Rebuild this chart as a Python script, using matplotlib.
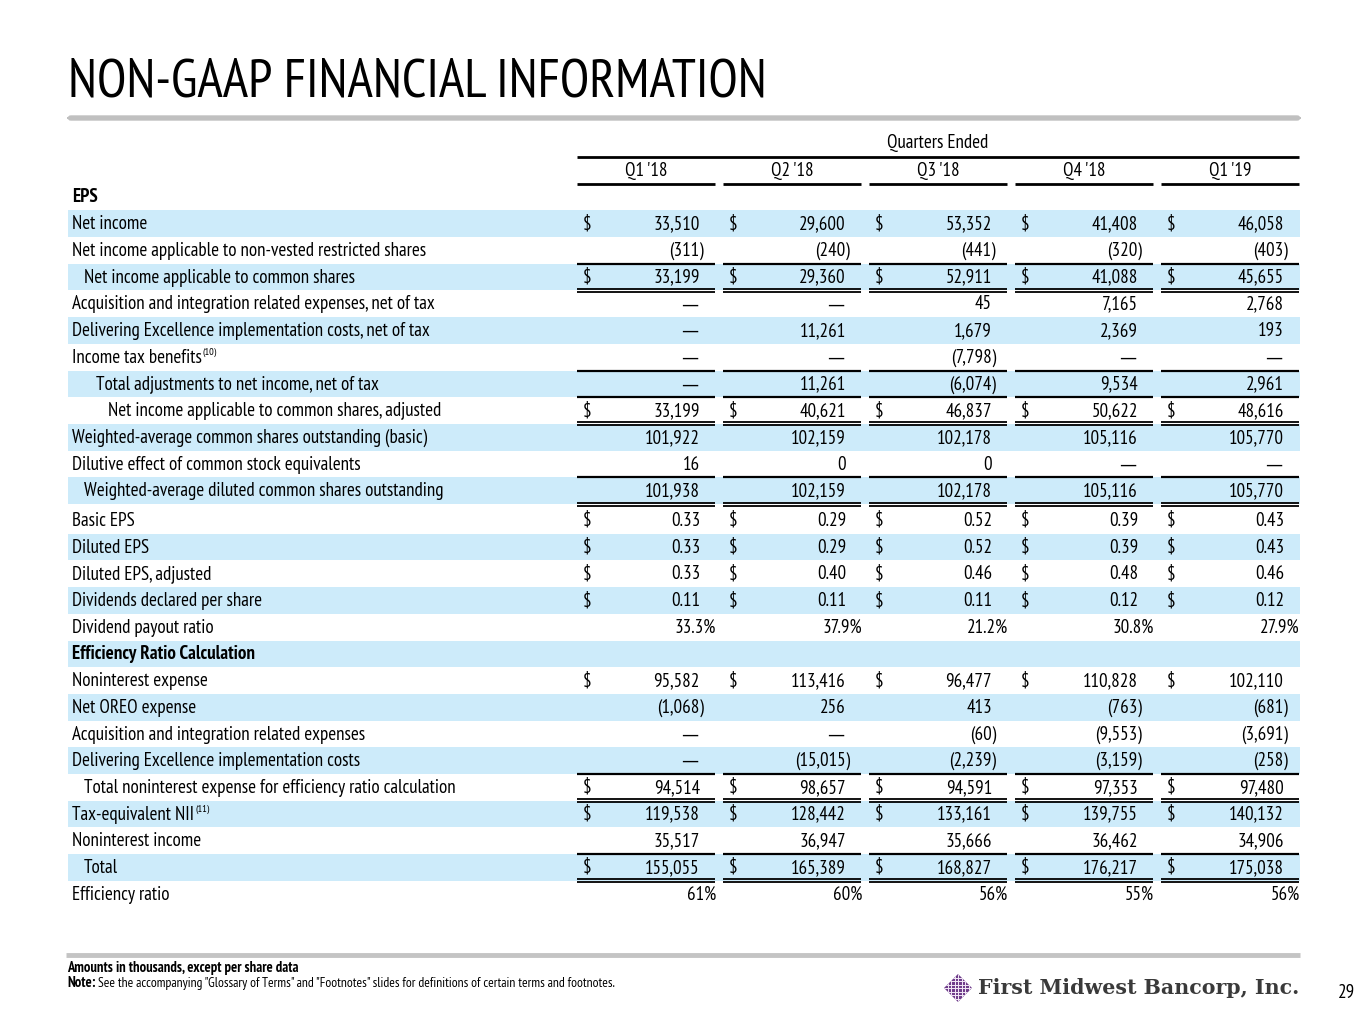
import matplotlib
matplotlib.use("Agg")
import matplotlib.pyplot as plt
from matplotlib.patches import Rectangle, FancyBboxPatch, Polygon

FONT = ['PT Sans Narrow', 'Fira Sans Condensed', 'Asap Condensed', 'DejaVu Sans']
plt.rcParams['font.family'] = FONT

quarters = ["Q1 '18", "Q2 '18", "Q3 '18", "Q4 '18", "Q1 '19"]

# EPS section
net_income = [33510, 29600, 53352, 41408, 46058]
nonvested = [-311, -240, -441, -320, -403]
ni_common = [33199, 29360, 52911, 41088, 45655]
acq_net = [None, None, 45, 7165, 2768]
de_net = [None, 11261, 1679, 2369, 193]
tax_benefit = [None, None, -7798, None, None]
total_adj = [None, 11261, -6074, 9534, 2961]
ni_common_adj = [33199, 40621, 46837, 50622, 48616]
shares_basic = [101922, 102159, 102178, 105116, 105770]
dilutive = [16, 0, 0, None, None]
shares_diluted = [101938, 102159, 102178, 105116, 105770]
basic_eps = [0.33, 0.29, 0.52, 0.39, 0.43]
diluted_eps = [0.33, 0.29, 0.52, 0.39, 0.43]
diluted_eps_adj = [0.33, 0.40, 0.46, 0.48, 0.46]
dividends = [0.11, 0.11, 0.11, 0.12, 0.12]
payout = [33.3, 37.9, 21.2, 30.8, 27.9]

# efficiency ratio section
nonint_exp = [95582, 113416, 96477, 110828, 102110]
oreo = [-1068, 256, 413, -763, -681]
acq_exp = [None, None, -60, -9553, -3691]
de_cost = [None, -15015, -2239, -3159, -258]
total_nonint = [94514, 98657, 94591, 97353, 97480]
te_nii = [119538, 128442, 133161, 139755, 140132]
nonint_inc = [35517, 36947, 35666, 36462, 34906]
total_rev = [155055, 165389, 168827, 176217, 175038]
eff_ratio = [61, 60, 56, 55, 56]

# label, values, kind, indent level, dollar sign, bold, superscript, rule below
rows = [
    ("EPS", None, "", 0, False, True, "", ""),
    ("Net income", net_income, "int", 0, True, False, "", ""),
    ("Net income applicable to non-vested restricted shares", nonvested, "int", 0, False, False, "", "single"),
    ("Net income applicable to common shares", ni_common, "int", 1, True, False, "", "double"),
    ("Acquisition and integration related expenses, net of tax", acq_net, "int", 0, False, False, "", ""),
    ("Delivering Excellence implementation costs, net of tax", de_net, "int", 0, False, False, "", ""),
    ("Income tax benefits", tax_benefit, "int", 0, False, False, "(10)", "single"),
    ("Total adjustments to net income, net of tax", total_adj, "int", 2, False, False, "", "single"),
    ("Net income applicable to common shares, adjusted", ni_common_adj, "int", 3, True, False, "", "double"),
    ("Weighted-average common shares outstanding (basic)", shares_basic, "int", 0, False, False, "", ""),
    ("Dilutive effect of common stock equivalents", dilutive, "int", 0, False, False, "", "single"),
    ("Weighted-average diluted common shares outstanding", shares_diluted, "int", 1, False, False, "", "double"),
    ("Basic EPS", basic_eps, "eps", 0, True, False, "", ""),
    ("Diluted EPS", diluted_eps, "eps", 0, True, False, "", ""),
    ("Diluted EPS, adjusted", diluted_eps_adj, "eps", 0, True, False, "", ""),
    ("Dividends declared per share", dividends, "eps", 0, True, False, "", ""),
    ("Dividend payout ratio", payout, "pct1", 0, False, False, "", ""),
    ("Efficiency Ratio Calculation", None, "", 0, False, True, "", ""),
    ("Noninterest expense", nonint_exp, "int", 0, True, False, "", ""),
    ("Net OREO expense", oreo, "int", 0, False, False, "", ""),
    ("Acquisition and integration related expenses", acq_exp, "int", 0, False, False, "", ""),
    ("Delivering Excellence implementation costs", de_cost, "int", 0, False, False, "", "single"),
    ("Total noninterest expense for efficiency ratio calculation", total_nonint, "int", 1, True, False, "", "double"),
    ("Tax-equivalent NII", te_nii, "int", 0, True, False, "(11)", ""),
    ("Noninterest income", nonint_inc, "int", 0, False, False, "", "single"),
    ("Total", total_rev, "int", 1, True, False, "", "double"),
    ("Efficiency ratio", eff_ratio, "pct0", 0, False, False, "", ""),
]


def fmt(v, kind):
    if v is None:
        return "\u2014"
    if kind == "eps":
        return f"{v:.2f}"
    if kind == "pct1":
        return f"{v:.1f}%"
    if kind == "pct0":
        return f"{v:.0f}%"
    if v < 0:
        return f"({-v:,})"
    return f"{v:,}"


fig = plt.figure(figsize=(13.65, 10.24), dpi=100)
ax = fig.add_axes([0, 0, 1, 1])
ax.set_xlim(0, 1365)
ax.set_ylim(1024, 0)
ax.axis("off")
renderer = fig.canvas.get_renderer()
inv = ax.transData.inverted()


def width_of(t):
    bb = t.get_window_extent(renderer)
    return bb.x1 - bb.x0


def fit_size(s, target, **kw):
    t = ax.text(0, 0, s, fontsize=20, **kw)
    w = width_of(t)
    t.remove()
    return 20 * target / w


def right_x(t):
    bb = t.get_window_extent(renderer)
    return inv.transform((bb.x1, bb.y1))[0]


FS = fit_size("Net income applicable to non-vested restricted shares", 352)
DY = 0.5  # nudge so the cap height sits centred in the band
band_color = "#cdebfa"
col_left = [577 + 146 * i for i in range(5)]
col_w = 138

# title + grey bar
title_fs = fit_size("NON-GAAP FINANCIAL INFORMATION", 698)
ax.text(68, 83, "NON-GAAP FINANCIAL INFORMATION", fontsize=title_fs, va="center", ha="left", color="black")
ax.add_patch(FancyBboxPatch((68, 116), 1232, 4, boxstyle="round,pad=0,rounding_size=3",
                            fc="#c0c0c0", ec="#c0c0c0", lw=1))

# column header
ax.text((col_left[0] + col_left[-1] + col_w) / 2, 143 + DY, "Quarters Ended", fontsize=FS, ha="center", va="center")
ax.hlines(157, col_left[0], col_left[-1] + col_w, color="black", lw=2)
for q, x0 in zip(quarters, col_left):
    ax.text(x0 + col_w / 2, 170 + DY, q, fontsize=FS, ha="center", va="center")
    ax.hlines(184, x0, x0 + col_w, color="black", lw=2)


def row_y(i):
    return 197 + i * 26.7 + (3 if i >= 12 else 0)


for i, (label, vals, kind, indent, dollar, bold, sup, rule) in enumerate(rows):
    y = row_y(i)
    if i % 2 == 1:
        ax.add_patch(Rectangle((68, y - 13.3), 1232, 26.6, fc=band_color, ec="none", zorder=0))
    t = ax.text(72 + 12 * indent, y + DY, label, fontsize=FS, ha="left", va="center",
                fontweight="bold" if bold else "normal")
    if sup:
        ax.text(right_x(t) + 1, y - 5, sup, fontsize=FS * 0.55, ha="left", va="center")
    if vals is None:
        continue
    for v, x0 in zip(vals, col_left):
        xr = x0 + col_w
        s = fmt(v, kind)
        if dollar:
            ax.text(x0 + 6, y + DY, "$", fontsize=FS, ha="left", va="center")
        if v is None:
            ax.text(xr - 17, y + DY, s, fontsize=FS * 0.9, ha="right", va="center",
                    family=["DejaVu Sans"])
        else:
            if s.endswith("%"):
                xt = xr + 1
            elif s.endswith(")"):
                xt = xr - 11
            else:
                xt = xr - 15
            ax.text(xt, y + DY, s, fontsize=FS, ha="right", va="center")
        yb = y + 13.3
        if rule == "single":
            ax.hlines(yb, x0, xr, color="black", lw=1.6, zorder=3)
        elif rule == "double":
            ax.hlines(yb - 1.5, x0, xr, color="black", lw=1.3, zorder=3)
            ax.hlines(yb + 1.5, x0, xr, color="black", lw=1.3, zorder=3)

# footer
ax.hlines(955, 66, 1300, color="#c4c4c4", lw=3.5)
amounts = "Amounts in thousands, except per share data"
note = "See the accompanying \"Glossary of Terms\" and \"Footnotes\" slides for definitions of certain terms and footnotes."
small_fs = fit_size(amounts, 231, fontweight="bold")
ax.text(67, 968, amounts, fontsize=small_fs, fontweight="bold", ha="left", va="center")
t = ax.text(67, 983, "Note:", fontsize=small_fs, fontweight="bold", ha="left", va="center")
x_note = right_x(t) + 3
ax.text(x_note, 983, note, fontsize=fit_size(note, 612 - x_note), ha="left", va="center")

# logo
cx, cy, r = 958, 988, 14
diamond = Polygon([(cx, cy - r), (cx + r, cy), (cx, cy + r), (cx - r, cy)], closed=True,
                  fc="#6f3d8a", ec="none")
ax.add_patch(diamond)
for k in range(-3, 4):
    ln = ax.plot([cx + k * 3.5, cx + k * 3.5], [cy - r, cy + r], color="#f3e9f7", lw=0.7)[0]
    ln.set_clip_path(diamond)
    ln = ax.plot([cx - r, cx + r], [cy + k * 3.5, cy + k * 3.5], color="#f3e9f7", lw=0.7)[0]
    ln.set_clip_path(diamond)
serif = ["DejaVu Serif"]
logo = "First Midwest Bancorp, Inc."
logo_fs = fit_size(logo, 319, fontweight="bold", family=serif)
ax.text(978, 988, logo, fontsize=logo_fs, fontweight="bold",
        family=serif, color="#3a3a3a", ha="left", va="center")
ax.text(1338, 993, "29", fontsize=FS, ha="left", va="center")

fig.savefig("out.png", dpi=100)
